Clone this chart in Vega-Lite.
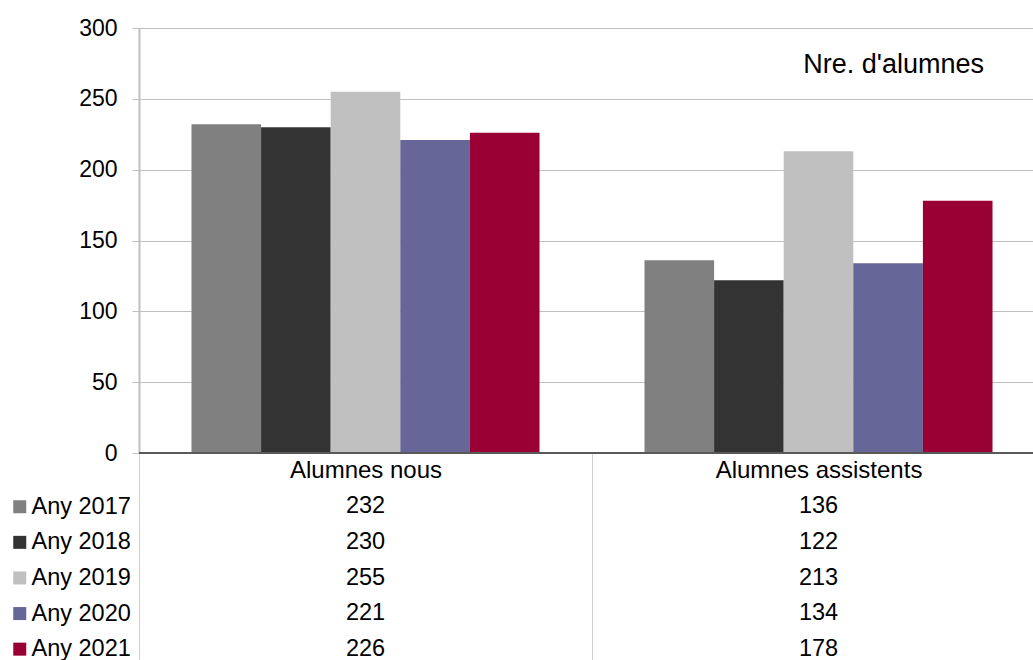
{
  "$schema": "https://vega.github.io/schema/vega-lite/v6.json",
  "padding": {"left": 8, "top": 17, "right": -12, "bottom": 0},
  "config": {"font": "Liberation Sans", "view": {"stroke": null}},
  "data": {"values": [
      {"cat": "Alumnes nous", "year": "Any 2017", "value": 232},
      {"cat": "Alumnes nous", "year": "Any 2018", "value": 230},
      {"cat": "Alumnes nous", "year": "Any 2019", "value": 255},
      {"cat": "Alumnes nous", "year": "Any 2020", "value": 221},
      {"cat": "Alumnes nous", "year": "Any 2021", "value": 226},
      {"cat": "Alumnes assistents", "year": "Any 2017", "value": 136},
      {"cat": "Alumnes assistents", "year": "Any 2018", "value": 122},
      {"cat": "Alumnes assistents", "year": "Any 2019", "value": 213},
      {"cat": "Alumnes assistents", "year": "Any 2020", "value": 134},
      {"cat": "Alumnes assistents", "year": "Any 2021", "value": 178}
  ]},
  "width": 906,
  "height": 425,
  "title": {"text": "Nre. d'alumnes", "anchor": "end", "fontSize": 27, "fontWeight": "normal", "color": "black", "offset": -44, "dx": -62, "dy": 39, "baseline": "alphabetic"},
  "resolve": {"scale": {"y": "independent"}, "axis": {"y": "independent"}},
  "layer": [
    {
      "layer": [
        {
          "mark": {"type": "bar"},
          "encoding": {
            "x": {"field": "cat", "type": "nominal", "sort": ["Alumnes nous", "Alumnes assistents"],
              "scale": {"domain": ["Alumnes nous", "Alumnes assistents"], "paddingInner": 0, "paddingOuter": 0},
              "axis": {"title": null, "domain": false, "ticks": true, "tickBand": "extent", "tickExtra": false, "tickSize": 207, "tickWidth": 1, "tickColor": "#d0d0d0",
                "labelAngle": 0, "labelFontSize": 24, "labelColor": "black", "labelPadding": -202, "labelLimit": 0, "grid": false}},
            "xOffset": {"field": "year", "type": "nominal", "scale": {"paddingInner": 0, "paddingOuter": 0.754}},
            "y": {"field": "value", "type": "quantitative", "scale": {"domain": [0, 300]},
              "axis": {"title": null, "values": [0, 50, 100, 150, 200, 250, 300], "grid": true, "gridColor": "#c0c0c0", "gridWidth": 1,
                "domainColor": "#c0c0c0", "domainWidth": 2, "tickColor": "#c0c0c0", "tickSize": 7, "labelFontSize": 23, "labelPadding": 15, "labelColor": "black"}},
            "color": {"field": "year", "type": "nominal",
              "scale": {"domain": ["Any 2017", "Any 2018", "Any 2019", "Any 2020", "Any 2021"], "range": ["#808080", "#333333", "#c0c0c0", "#666699", "#990033"]},
              "legend": {"orient": "none", "legendX": -131, "legendY": 467, "title": null, "symbolType": "square", "symbolSize": 169, "symbolStrokeWidth": 0, "symbolOpacity": 1,
                "labelFontSize": 23.5, "labelColor": "black", "labelOffset": 0, "rowPadding": 10.6, "padding": 0, "offset": 0, "labelLimit": 0}}
          }
        },
        {
          "mark": {"type": "rule", "color": "#595959", "strokeWidth": 2},
          "encoding": {"y": {"datum": 0, "type": "quantitative"}}
        }
      ]
    },
    {
      "mark": {"type": "text", "fontSize": 23.5, "baseline": "middle", "color": "black"},
      "encoding": {
        "x": {"field": "cat", "type": "nominal"},
        "y": {"field": "year", "type": "nominal",
          "scale": {"type": "band", "domain": ["Any 2017", "Any 2018", "Any 2019", "Any 2020", "Any 2021"], "range": [460, 639], "paddingInner": 0, "paddingOuter": 0},
          "axis": null},
        "text": {"field": "value", "type": "quantitative"}
      }
    }
  ]
}
